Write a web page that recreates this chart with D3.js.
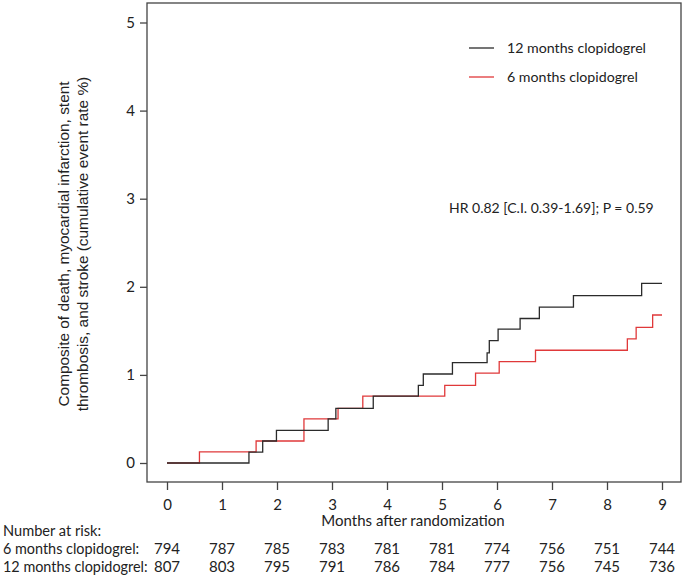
<!DOCTYPE html>
<html><head><meta charset="utf-8">
<script src="https://cdn.jsdelivr.net/npm/d3@7"></script>
<style>body{margin:0;background:#fff}</style>
</head><body>
<svg id="c" width="685" height="579"></svg>
<script>
// Step data: [time in months, cumulative event rate %]
const times12 = [0, 1.49, 1.74, 1.99, 2.93, 3.07, 3.75, 4.57, 4.66, 5.19, 5.82, 5.86, 6.02, 6.42, 6.77, 7.39, 8.63, 9.0];
const rates12 = [0, 0.124, 0.25, 0.37, 0.50, 0.62, 0.76, 0.88, 1.01, 1.14, 1.25, 1.39, 1.52, 1.64, 1.77, 1.90, 2.04, 2.04];
const times6 = [0, 0.59, 1.62, 2.49, 3.11, 3.56, 5.05, 5.61, 6.04, 6.70, 8.37, 8.53, 8.83, 9.0];
const rates6 = [0, 0.126, 0.25, 0.50, 0.62, 0.76, 0.88, 1.02, 1.15, 1.28, 1.41, 1.54, 1.68, 1.68];
const xTicks = [0,1,2,3,4,5,6,7,8,9];
const yTicks = [0,1,2,3,4,5];
const risk6 = [794,787,785,783,781,781,774,756,751,744];
const risk12 = [807,803,795,791,786,784,777,756,745,736];
const seriesNames = ["12 months clopidogrel", "6 months clopidogrel"];
const seriesColors = ["#2b2b2b", "#e0393a"];

const svg = d3.select("#c");
const F = "Lato, 'Open Sans', sans-serif";
const box = {l:147, r:681, t:3, b:482};
const x = d3.scaleLinear().domain([0,9]).range([167,662]);
const y = d3.scaleLinear().domain([0,5]).range([463,22.5]);

// box
svg.append("rect").attr("x",box.l).attr("y",box.t).attr("width",box.r-box.l).attr("height",box.b-box.t)
  .attr("fill","none").attr("stroke","#444").attr("stroke-width",1.3);

// y axis
const yAx = svg.append("g").attr("transform",`translate(${box.l},0)`)
  .call(d3.axisLeft(y).tickValues(yTicks).tickSize(7).tickPadding(5).tickFormat(d3.format("d")));
yAx.select(".domain").remove();
yAx.selectAll("line").attr("stroke","#444").attr("stroke-width",1.3);
yAx.selectAll("text").attr("font-family",F).attr("font-size",15).attr("fill","#222");

// x axis
const xAx = svg.append("g").attr("transform",`translate(0,${box.b})`)
  .call(d3.axisBottom(x).tickValues(xTicks).tickSize(8).tickPadding(9).tickFormat(d3.format("d")));
xAx.select(".domain").remove();
xAx.selectAll("line").attr("stroke","#444").attr("stroke-width",1.3);
xAx.selectAll("text").attr("font-family",F).attr("font-size",15).attr("fill","#222");

// axis titles
svg.append("text").attr("x",413).attr("y",526).attr("text-anchor","middle")
  .attr("font-family",F).attr("font-size",15).attr("fill","#222").text("Months after randomization");
const yt = svg.append("text").attr("transform","translate(0,244) rotate(-90)")
  .attr("text-anchor","middle").attr("font-family","'Liberation Sans', Arial, sans-serif")
  .attr("font-size",15.4).attr("fill","#222");
yt.append("tspan").attr("x",0).attr("y",69).text("Composite of death, myocardial infarction, stent");
yt.append("tspan").attr("x",0).attr("y",88).text("thrombosis, and stroke (cumulative event rate %)");

// curves
const line = d3.line().x(d=>x(d[0])).y(d=>y(d[1])).curve(d3.curveStepAfter);
const data12 = times12.map((t,i)=>[t,rates12[i]]);
const data6 = times6.map((t,i)=>[t,rates6[i]]);
svg.append("path").datum(data6).attr("d",line).attr("fill","none")
  .attr("stroke",seriesColors[1]).attr("stroke-width",1.3);
svg.append("path").datum(data12).attr("d",line).attr("fill","none")
  .attr("stroke",seriesColors[0]).attr("stroke-width",1.3);

// legend
seriesNames.forEach((n,i)=>{
  const ly = 48 + i*29;
  svg.append("line").attr("x1",469).attr("x2",494).attr("y1",ly).attr("y2",ly)
    .attr("stroke",seriesColors[i]).attr("stroke-width",1.3);
  svg.append("text").attr("x",507).attr("y",ly+5).attr("font-family",F).attr("font-size",14.2)
    .attr("fill","#222").text(n);
});

// HR text
svg.append("text").attr("x",449).attr("y",213).attr("font-family",F).attr("font-size",14)
  .attr("fill","#222").text("HR 0.82 [C.I. 0.39-1.69]; P = 0.59");

// risk table
const rows = [["6 months clopidogrel:", risk6, 554],["12 months clopidogrel:", risk12, 572]];
svg.append("text").attr("x",3).attr("y",536).attr("font-family",F).attr("font-size",14.6)
  .attr("fill","#222").text("Number at risk:");
rows.forEach(r=>{
  svg.append("text").attr("x",3).attr("y",r[2]).attr("font-family",F).attr("font-size",14.4)
    .attr("fill","#222").text(r[0]);
  svg.selectAll(null).data(r[1]).enter().append("text")
    .attr("x",(d,i)=>x(xTicks[i])).attr("y",r[2]).attr("text-anchor","middle")
    .attr("font-family",F).attr("font-size",15).attr("fill","#222").text(d=>d);
});
</script>
</body></html>
